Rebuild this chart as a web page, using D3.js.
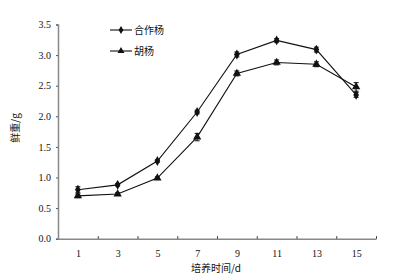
<!DOCTYPE html>
<html>
<head>
<meta charset="utf-8">
<script src="https://cdn.jsdelivr.net/npm/d3@7"></script>
<style>
  body { margin: 0; background: #fff; }
  svg { display: block; }
  text { font-family: "Liberation Serif", "Times New Roman", serif; font-size: 10px; fill: #111; }
  .cjk { font-family: "Noto Sans CJK SC", sans-serif; }
</style>
</head>
<body>
<svg id="chart"></svg>
<script>
// culture days
const days = [1, 3, 5, 7, 9, 11, 13, 15];
// fresh weight (g)
const hezuoyang = [0.80, 0.88, 1.27, 2.07, 3.01, 3.24, 3.09, 2.35];
const hezuoyangErr = [0.05, 0.02, 0.02, 0.03, 0.04, 0.03, 0.04, 0.04];
const huyang = [0.70, 0.73, 0.99, 1.66, 2.70, 2.88, 2.85, 2.48];
const huyangErr = [0.03, 0.02, 0.02, 0.06, 0.04, 0.04, 0.04, 0.07];
const yTicks = [0, 0.5, 1, 1.5, 2, 2.5, 3, 3.5];
const xBoundaries = [2, 4, 6, 8, 10, 12, 14, 16];

const series = [
  { name: "合作杨", values: hezuoyang, err: hezuoyangErr, symbol: d3.symbolDiamond, size: 28 },
  { name: "胡杨", values: huyang, err: huyangErr, symbol: d3.symbolTriangle, size: 30 },
];

const width = 402, height = 280;
const svg = d3.select("#chart").attr("width", width).attr("height", height);

const x = d3.scaleLinear().domain([0, 16]).range([58, 376]);
const y = d3.scaleLinear().domain([0, 3.5]).range([238.7, 24.5]);

// y axis
const yAxis = svg.append("g")
  .attr("transform", `translate(${x(0)},0)`)
  .call(d3.axisLeft(y).tickValues(yTicks).tickFormat(d3.format(".1f")).tickSize(2).tickPadding(5));
yAxis.select(".domain").attr("stroke", "#888").attr("stroke-width", 1.5);
yAxis.selectAll(".tick line").attr("stroke", "#555");
yAxis.selectAll("text").attr("font-size", 10).attr("font-family", "Liberation Serif").attr("fill", "#111");

// x axis labels
const xAxis = svg.append("g")
  .attr("transform", `translate(0,${y(0)})`)
  .call(d3.axisBottom(x).tickValues(days).tickFormat(d3.format("d")).tickSize(0).tickPadding(11));
xAxis.select(".domain").attr("stroke", "#888").attr("stroke-width", 1.5);
xAxis.selectAll("text").attr("font-size", 10).attr("font-family", "Liberation Serif").attr("fill", "#111");

// x boundary ticks (inside)
const xTickAxis = svg.append("g")
  .attr("transform", `translate(0,${y(0)})`)
  .call(d3.axisBottom(x).tickValues(xBoundaries).tickSize(-2.5).tickFormat(""));
xTickAxis.select(".domain").remove();
xTickAxis.selectAll(".tick line").attr("stroke", "#333");

// axis titles
svg.append("text")
  .attr("class", "cjk")
  .attr("x", (x(0) + x(16)) / 2 - 1)
  .attr("y", 272)
  .attr("text-anchor", "middle")
  .attr("font-size", 10)
  .text("培养时间/d");

svg.append("text")
  .attr("class", "cjk")
  .attr("transform", `translate(19,128) rotate(-90)`)
  .attr("text-anchor", "middle")
  .attr("font-size", 10)
  .text("鲜重/g");

const line = d3.line().x((d, i) => x(days[i])).y(d => y(d));

series.forEach(s => {
  const g = svg.append("g");
  g.append("path")
    .datum(s.values)
    .attr("d", line)
    .attr("fill", "none")
    .attr("stroke", "#111")
    .attr("stroke-width", 1.1);

  // error bars
  const eb = g.selectAll(".eb").data(s.values).join("g");
  eb.append("line")
    .attr("x1", (d, i) => x(days[i])).attr("x2", (d, i) => x(days[i]))
    .attr("y1", (d, i) => y(d - s.err[i])).attr("y2", (d, i) => y(d + s.err[i]))
    .attr("stroke", "#111").attr("stroke-width", 1);
  [-1, 1].forEach(sign => {
    eb.append("line")
      .attr("x1", (d, i) => x(days[i]) - 2.5).attr("x2", (d, i) => x(days[i]) + 2.5)
      .attr("y1", (d, i) => y(d + sign * s.err[i])).attr("y2", (d, i) => y(d + sign * s.err[i]))
      .attr("stroke", "#111").attr("stroke-width", 1);
  });

  g.selectAll(".pt").data(s.values).join("path")
    .attr("transform", (d, i) => `translate(${x(days[i])},${y(d)})`)
    .attr("d", d3.symbol().type(s.symbol).size(s.size))
    .attr("fill", "#111");
});

// legend
const legend = svg.append("g");
series.forEach((s, i) => {
  const ly = 30 + i * 21;
  legend.append("line")
    .attr("x1", 110).attr("x2", 132).attr("y1", ly).attr("y2", ly)
    .attr("stroke", "#111").attr("stroke-width", 1.1);
  legend.append("path")
    .attr("transform", `translate(121,${ly})`)
    .attr("d", d3.symbol().type(s.symbol).size(s.size * 0.7))
    .attr("fill", "#111");
  legend.append("text")
    .attr("class", "cjk")
    .attr("x", 134).attr("y", ly + 3.5)
    .attr("font-size", 10)
    .text(s.name);
});
</script>
</body>
</html>
